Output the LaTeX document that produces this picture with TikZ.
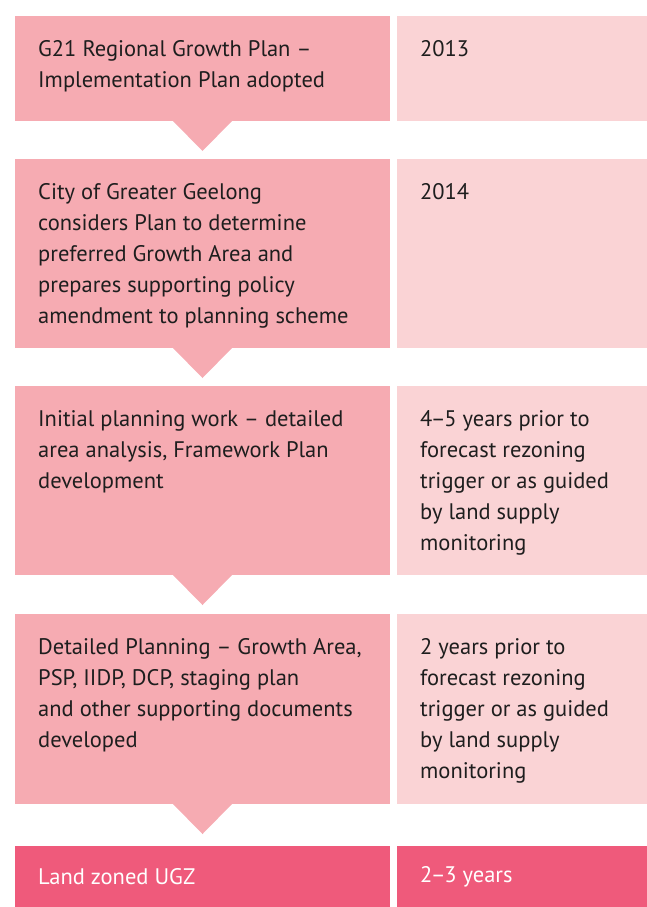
\documentclass[tikz,border=0pt]{standalone}
\usepackage{fontspec}
\setmainfont{PT Sans}
\usetikzlibrary{positioning}
\definecolor{cRose}{HTML}{F6ABB2}
\definecolor{cBlush}{HTML}{FAD3D5}
\definecolor{cPink}{HTML}{EF5A7B}
\definecolor{cInk}{HTML}{1E1E1E}
\newcommand{\rdash}{\kern-1.5pt--\kern-1.5pt}

\begin{document}
\begin{tikzpicture}[
  x=1pt, y=1pt,
  node distance=38pt and 7pt,
  stagebox/.style={rectangle, fill=cRose, minimum width=375pt,
                   inner sep=0pt, outer sep=0pt},
  timebox/.style={rectangle, fill=cBlush, minimum width=250pt,
                  inner sep=0pt, outer sep=0pt},
  zonebox/.style={rectangle, fill=cPink, inner sep=0pt, outer sep=0pt},
  txt/.style={anchor=north west, inner sep=0pt, align=left,
              text=cInk, font=\fontsize{22.5}{31}\selectfont},
  wtxt/.style={anchor=west, inner sep=0pt, text=white,
               font=\fontsize{22.5}{31}\selectfont},
  pointer/.style={fill=cRose},
]
\useasboundingbox (0,0) rectangle (647,-907);

\node[stagebox, minimum height=105pt, anchor=north west] (s1) at (15,-16) {};
\node[timebox, minimum height=105pt, right=of s1] (y1) {};
\node[stagebox, minimum height=189pt, below=of s1] (s2) {};
\node[timebox, minimum height=189pt, right=of s2] (y2) {};
\node[stagebox, minimum height=189pt, below=of s2] (s3) {};
\node[timebox, minimum height=189pt, right=of s3] (y3) {};
\node[stagebox, minimum height=190pt, below=39pt of s3] (s4) {};
\node[timebox, minimum height=190pt, right=of s4] (y4) {};
\node[zonebox, minimum width=375pt, minimum height=61pt, below=42pt of s4] (s5) {};
\node[zonebox, minimum width=250pt, minimum height=61pt, right=of s5] (y5) {};

\foreach \a in {s1,s2,s3,s4}
  \fill[pointer] ([xshift=-29.5pt]\a.south) -- ([yshift=-30pt]\a.south)
    -- ([xshift=29.5pt]\a.south) -- cycle;

\node[txt, below right=24pt and 23pt of s1.north west] (ts1)
  {G21 Regional Growth Plan --\\Implementation Plan adopted};
\node[txt, below right=24pt and 23pt of y1.north west] (ty1) {2013};
\node[txt, below right=24pt and 23pt of s2.north west] (ts2)
  {City of Greater Geelong\\considers Plan to determine\\preferred Growth Area and\\
   prepares supporting policy\\amendment to planning scheme};
\node[txt, below right=24pt and 23pt of y2.north west] (ty2) {2014};
\node[txt, below right=24pt and 23pt of s3.north west] (ts3)
  {Initial planning work -- detailed\\area analysis, Framework Plan\\development};
\node[txt, below right=24pt and 23pt of y3.north west] (ty3)
  {4\rdash 5 years prior to\\forecast rezoning\\trigger or as guided\\by land supply\\monitoring};
\node[txt, below right=24pt and 23pt of s4.north west] (ts4)
  {Detailed Planning -- Growth Area,\\PSP, IIDP, DCP, staging plan\\
   and other supporting documents\\developed};
\node[txt, below right=24pt and 23pt of y4.north west] (ty4)
  {2 years prior to\\forecast rezoning\\trigger or as guided\\by land supply\\monitoring};
\node[wtxt, right=23pt of s5.west] (ts5) {Land zoned UGZ};
\node[wtxt, right=23pt of y5.west] (ty5) {2\rdash 3 years};

\end{tikzpicture}
\end{document}
